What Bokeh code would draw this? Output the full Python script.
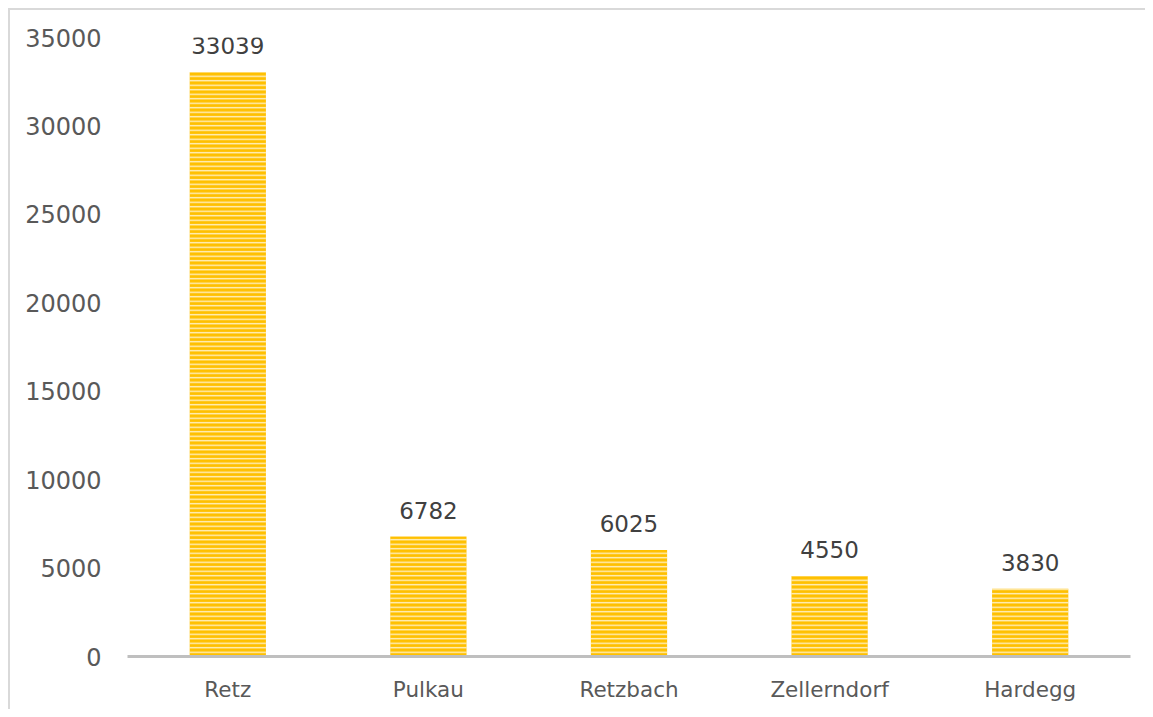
from bokeh.plotting import figure
from bokeh.models import ColumnDataSource, Range1d, FactorRange, SingleIntervalTicker, LabelSet
from bokeh.core.properties import value
from bokeh.embed import file_html
from bokeh.resources import INLINE

categories = ["Retz", "Pulkau", "Retzbach", "Zellerndorf", "Hardegg"]
values = [33039, 6782, 6025, 4550, 3830]
labels = [str(v) for v in values]

src = ColumnDataSource(dict(cat=categories, val=values, lab=labels))

FONT = "DejaVu Sans"
TXT = "#595959"

p = figure(x_range=FactorRange(*categories, range_padding=0), y_range=Range1d(0, 35000),
           width=1137, height=701, output_backend="svg", toolbar_location=None,
           min_border_left=117, min_border_right=17, min_border_top=27, min_border_bottom=55)
p.styles = {"margin-top": "8px", "margin-left": "8px",
            "border-top": "2px solid #d9d9d9", "border-left": "2px solid #d9d9d9"}
p.outline_line_color = None
p.xgrid.grid_line_color = None
p.ygrid.grid_line_color = None

p.vbar(x="cat", top="val", width=0.38, source=src, fill_color="#FFC000", line_color=None,
       hatch_pattern="horizontal_line", hatch_color="white", hatch_alpha=0.8,
       hatch_scale=4.5, hatch_weight=1.3)

lbl = LabelSet(x="cat", y="val", text="lab", source=src, text_align="center",
               text_baseline="bottom", y_offset=18, text_font=value(FONT),
               text_font_size="23px", text_color="#404040")
p.add_layout(lbl)

p.yaxis.ticker = SingleIntervalTicker(interval=5000)
p.yaxis.axis_line_color = None
p.yaxis.major_tick_line_color = None
p.yaxis.minor_tick_line_color = None
p.yaxis.major_tick_out = 0
p.yaxis.major_label_standoff = 22
p.yaxis.major_label_text_font = FONT
p.yaxis.major_label_text_font_size = "24px"
p.yaxis.major_label_text_color = TXT

p.xaxis.axis_line_color = "#bfbfbf"
p.xaxis.axis_line_width = 3
p.xaxis.major_tick_line_color = None
p.xaxis.minor_tick_line_color = None
p.xaxis.major_tick_out = 0
p.xaxis.major_label_standoff = 20
p.xaxis.major_label_text_font = FONT
p.xaxis.major_label_text_font_size = "21.5px"
p.xaxis.major_label_text_color = TXT

open("out.html", "w").write(file_html(p, INLINE))
